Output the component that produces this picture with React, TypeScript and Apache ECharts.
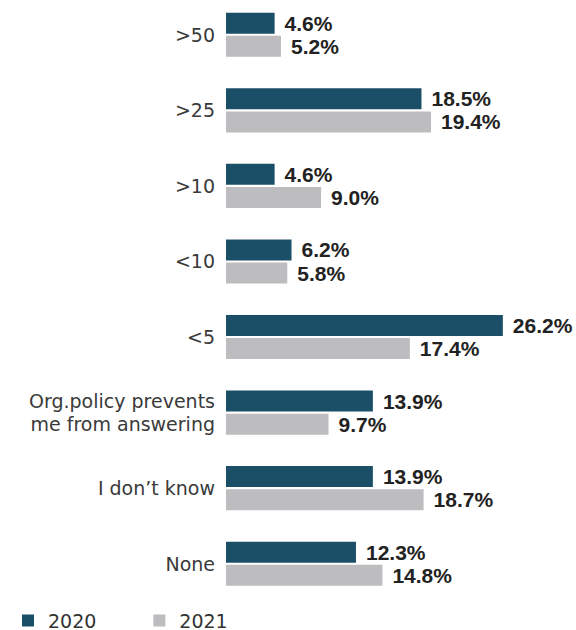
import React, { useEffect, useRef } from "react";
import * as echarts from "echarts";

const categories = [">50", ">25", ">10", "<10", "<5", "Org.policy prevents\nme from answering", "I don’t know", "None"];
const seriesNames = ["2020", "2021"];
const values2020 = [4.6, 18.5, 4.6, 6.2, 26.2, 13.9, 13.9, 12.3];
const values2021 = [5.2, 19.4, 9.0, 5.8, 17.4, 9.7, 18.7, 14.8];

export default function App() {
  const ref = useRef<HTMLDivElement>(null);
  useEffect(() => {
    if (!ref.current) return;
    const chart = echarts.init(ref.current, null, { renderer: "svg" });
    const valueLabel = {
      show: true,
      position: "right" as const,
      distance: 10,
      fontFamily: "'Liberation Sans Narrow', 'Liberation Sans', Arial, sans-serif",
      fontWeight: "bold" as const,
      fontSize: 21,
      color: "#222",
      formatter: (p: any) => Number(p.value).toFixed(1) + "%",
    };
    chart.setOption({
      animation: false,
      backgroundColor: "#fff",
      grid: { left: 226, right: 33, top: 0, bottom: 28.5, containLabel: false },
      legend: {
        left: 17,
        top: 609,
        icon: "rect",
        itemWidth: 12,
        itemHeight: 12,
        itemGap: 57,
        data: seriesNames,
        textStyle: {
          fontFamily: "'DejaVu Sans', sans-serif",
          fontSize: 19,
          color: "#333",
          padding: [0, 0, 0, 9],
        },
      },
      xAxis: {
        type: "value",
        min: 0,
        max: 30,
        show: false,
        splitLine: { show: false },
      },
      yAxis: {
        type: "category",
        inverse: true,
        data: categories,
        axisLine: { show: false },
        axisTick: { show: false },
        axisLabel: {
          margin: 11,
          fontFamily: "'DejaVu Sans', sans-serif",
          fontSize: 19,
          lineHeight: 23,
          color: "#3a3a3a",
          align: "right",
        },
      },
      series: [
        {
          name: seriesNames[0],
          type: "bar",
          data: values2020,
          barWidth: 21,
          barGap: "10%",
          itemStyle: { color: "#1b4f68" },
          label: valueLabel,
        },
        {
          name: seriesNames[1],
          type: "bar",
          data: values2021,
          barWidth: 21,
          barGap: "10%",
          itemStyle: { color: "#bdbdbf" },
          label: valueLabel,
        },
      ],
    });
    return () => chart.dispose();
  }, []);
  return <div ref={ref} style={{ width: 576, height: 633, position: "absolute", left: 0, top: -3 }} />;
}
